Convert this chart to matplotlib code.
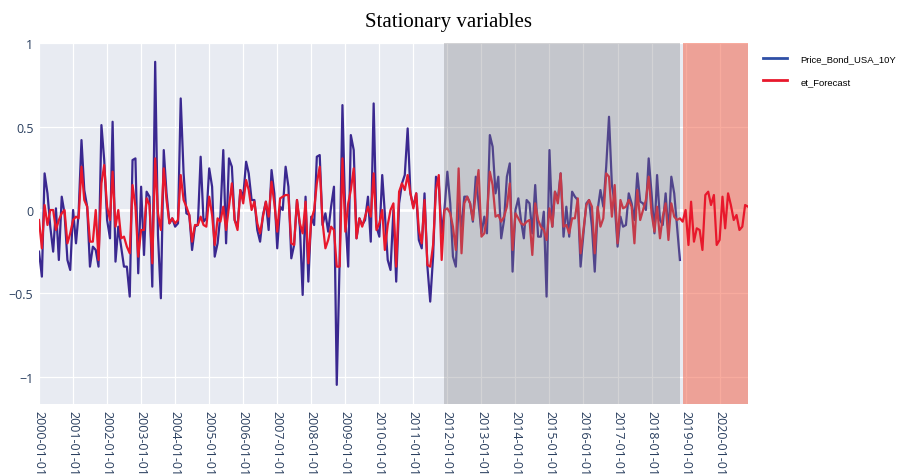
import matplotlib

matplotlib.use("Agg")
import matplotlib.pyplot as plt
import pandas as pd
from matplotlib.lines import Line2D

# Monthly values, first month 2000-01
START_MONTH = "2000-01-01"

price_bond_usa_10y = [
    -0.25, -0.40, 0.22, 0.10, -0.10, -0.25, 0.01, -0.30, 0.08, -0.02, -0.30, -0.36,
    0.00, -0.20, -0.02, 0.42, 0.12, 0.02, -0.34, -0.22, -0.24, -0.34, 0.51, 0.30,
    -0.06, -0.17, 0.53, -0.31, -0.10, -0.22, -0.34, -0.34, -0.52, 0.30, 0.31, -0.38,
    0.14, -0.27, 0.11, 0.08, -0.46, 0.89, -0.15, -0.53, 0.36, 0.10, -0.08, -0.05,
    -0.10, -0.08, 0.67, 0.22, -0.02, -0.03, -0.24, -0.10, -0.09, 0.32, -0.07, -0.05,
    0.25, 0.14, -0.28, -0.20, -0.03, 0.36, -0.20, 0.31, 0.26, -0.06, -0.10, 0.12,
    0.08, 0.29, 0.22, 0.06, 0.06, -0.12, -0.19, -0.03, 0.05, -0.12, 0.24, 0.10,
    -0.23, 0.02, 0.00, 0.26, 0.14, -0.29, -0.21, 0.06, -0.10, -0.51, 0.08, -0.43,
    -0.04, -0.09, 0.32, 0.33, -0.09, -0.02, -0.13, 0.02, 0.14, -1.05, -0.30, 0.63,
    -0.04, -0.34, 0.45, 0.36, -0.17, -0.05, -0.09, -0.06, 0.08, -0.19, 0.64, -0.10,
    -0.16, 0.21, -0.02, -0.30, -0.36, 0.00, -0.43, 0.04, 0.16, 0.21, 0.49, 0.10,
    0.02, 0.10, -0.18, -0.23, 0.10, -0.34, -0.55, -0.28, 0.20, 0.16, -0.14, 0.00,
    0.23, 0.04, -0.28, -0.34, 0.04, -0.10, 0.08, 0.08, 0.04, -0.07, 0.20, 0.04,
    -0.14, -0.04, -0.14, 0.45, 0.38, 0.10, 0.20, -0.17, -0.06, 0.20, 0.28, -0.37,
    0.00, 0.07, -0.06, -0.17, 0.06, 0.04, -0.14, 0.15, -0.16, -0.16, -0.01, -0.52,
    0.36, -0.10, 0.11, 0.06, 0.22, -0.16, 0.02, -0.16, 0.11, 0.08, 0.06, -0.34,
    -0.14, 0.04, 0.06, -0.10, -0.37, 0.00, 0.12, 0.02, 0.26, 0.56, 0.15, 0.04,
    -0.22, -0.04, -0.10, -0.09, 0.10, 0.04, -0.06, 0.22, 0.05, 0.04, 0.00, 0.31,
    0.10, -0.14, 0.21, -0.06, -0.09, 0.10, -0.14, 0.20, 0.10, -0.10, -0.30,
]

et_forecast = [
    -0.06, -0.23, 0.03, -0.09, 0.00, 0.00, -0.12, -0.06, -0.02, 0.00, -0.20, -0.14,
    -0.06, -0.04, -0.05, 0.26, 0.06, 0.02, -0.19, -0.19, 0.00, -0.30, 0.16, 0.27,
    0.02, -0.06, 0.23, -0.10, 0.00, -0.17, -0.16, -0.22, -0.26, 0.15, 0.02, -0.28,
    -0.12, -0.12, 0.07, 0.03, -0.32, 0.31, -0.02, -0.12, 0.25, 0.06, -0.08, -0.05,
    -0.08, -0.06, 0.21, 0.06, 0.02, -0.03, -0.19, -0.09, -0.09, -0.04, -0.09, -0.10,
    0.08, -0.03, -0.21, -0.05, -0.07, 0.02, -0.12, 0.02, 0.16, -0.06, -0.12, 0.12,
    0.04, 0.18, 0.12, 0.00, 0.05, -0.08, -0.14, -0.04, 0.05, -0.04, 0.17, 0.04,
    -0.13, 0.07, 0.08, 0.09, 0.09, -0.20, -0.21, 0.06, -0.08, -0.14, 0.05, -0.32,
    -0.06, 0.00, 0.16, 0.26, -0.07, -0.23, -0.18, -0.10, -0.12, -0.34, -0.34, 0.31,
    -0.13, 0.04, 0.12, 0.25, -0.17, -0.05, -0.10, -0.04, 0.02, -0.04, 0.22, -0.12,
    -0.08, 0.00, -0.24, -0.09, 0.00, 0.04, -0.34, 0.11, 0.16, 0.12, 0.21, 0.10,
    0.01, 0.10, -0.12, -0.20, 0.06, -0.33, -0.34, -0.21, 0.12, 0.21, -0.30, 0.00,
    0.01, -0.02, -0.10, -0.24, 0.25, -0.26, 0.04, 0.08, 0.04, -0.06, 0.10, 0.24,
    -0.16, -0.14, -0.04, 0.23, 0.15, -0.04, -0.03, -0.07, -0.04, 0.02, 0.16, -0.24,
    -0.02, -0.05, -0.08, -0.09, -0.07, -0.06, -0.27, 0.04, -0.06, -0.10, -0.12, -0.18,
    0.01, -0.10, 0.11, 0.04, 0.22, -0.10, -0.09, -0.14, -0.05, -0.05, 0.07, -0.26,
    -0.12, 0.03, 0.06, 0.02, -0.26, 0.02, -0.10, -0.05, 0.22, 0.20, -0.04, 0.15,
    -0.20, 0.06, 0.01, 0.02, 0.06, 0.02, -0.20, 0.12, -0.06, 0.00, 0.06, 0.20,
    -0.02, -0.13, 0.02, -0.17, -0.04, 0.04, -0.18, 0.04, -0.04, -0.06, -0.05, -0.07,
    0.00, -0.21, 0.05, -0.19, -0.11, -0.12, -0.24, 0.09, 0.11, 0.03, 0.09, -0.21,
    -0.18, 0.08, -0.11, 0.10, 0.03, -0.06, -0.03, -0.12, -0.10, 0.03, 0.02,
]

# Shaded periods (test and forecast)
test_period = ("2011-12-01", "2018-11-01")
forecast_period = ("2018-12-01", "2020-11-01")

year_ticks = [f"{y}-01-01" for y in range(2000, 2021)]
y_ticks = [-1, -0.5, 0, 0.5, 1]
y_tick_labels = ["\u22121", "\u22120.5", "0", "0.5", "1"]

BG = "#E8EBF2"
TICK_COLOR = "#2a3f5f"
BLUE = "#3a2890"
RED = "#e8182c"

dates_red = pd.date_range(START_MONTH, periods=len(et_forecast), freq="MS")
dates_blue = dates_red[: len(price_bond_usa_10y)]

fig = plt.figure(figsize=(9, 4.77), dpi=100)
ax = fig.add_axes([39 / 900, 1 - 405 / 477, 709 / 900, 361 / 477])
ax.set_facecolor(BG)
for s in ax.spines.values():
    s.set_visible(False)

# grid
tick_dates = pd.to_datetime(year_ticks)
for d in tick_dates:
    ax.axvline(d, color="white", linewidth=0.9, zorder=1)
for v in y_ticks:
    ax.axhline(v, color="white", linewidth=2.0 if v == 0 else 0.9, zorder=1)

ax.plot(dates_blue, price_bond_usa_10y, color=BLUE, linewidth=1.6, zorder=3)
ax.plot(dates_red, et_forecast, color=RED, linewidth=1.6, zorder=4)

# test period drawn above the lines, forecast period below
ax.axvspan(pd.Timestamp(test_period[0]), pd.Timestamp(test_period[1]),
           color="#7f7f85", alpha=0.34, linewidth=0, zorder=5)
ax.axvspan(pd.Timestamp(forecast_period[0]), pd.Timestamp(forecast_period[1]),
           color="#f3583e", alpha=0.5, linewidth=0, zorder=2)

ax.set_xlim(dates_red[0], dates_red[-1])
ax.set_ylim(-1.165, 1.003)

ax.set_xticks(tick_dates)
ax.set_xticklabels(year_ticks, rotation=-90, ha="center", va="top",
                   fontsize=9, color=TICK_COLOR, family="Open Sans")
ax.set_yticks(y_ticks)
ax.set_yticklabels(y_tick_labels, fontsize=9, color=TICK_COLOR, family="Open Sans")
ax.tick_params(axis="both", length=0, pad=4)

fig.text(0.498, 1 - 22 / 477, "Stationary variables", ha="center", va="center",
         fontsize=15, family="Liberation Serif", color="black")

handles = [
    Line2D([0], [0], color="#2f4fa6", linewidth=2),
    Line2D([0], [0], color=RED, linewidth=2),
]
fig.legend(handles, ["Price_Bond_USA_10Y", "et_Forecast"],
           loc="upper left", bbox_to_anchor=(754 / 900, 1 - 47 / 477),
           frameon=False, handlelength=2.6, handletextpad=1.4,
           labelspacing=1.4, prop={"family": "Liberation Sans", "size": 6.8})

fig.savefig("out.png", dpi=100)
